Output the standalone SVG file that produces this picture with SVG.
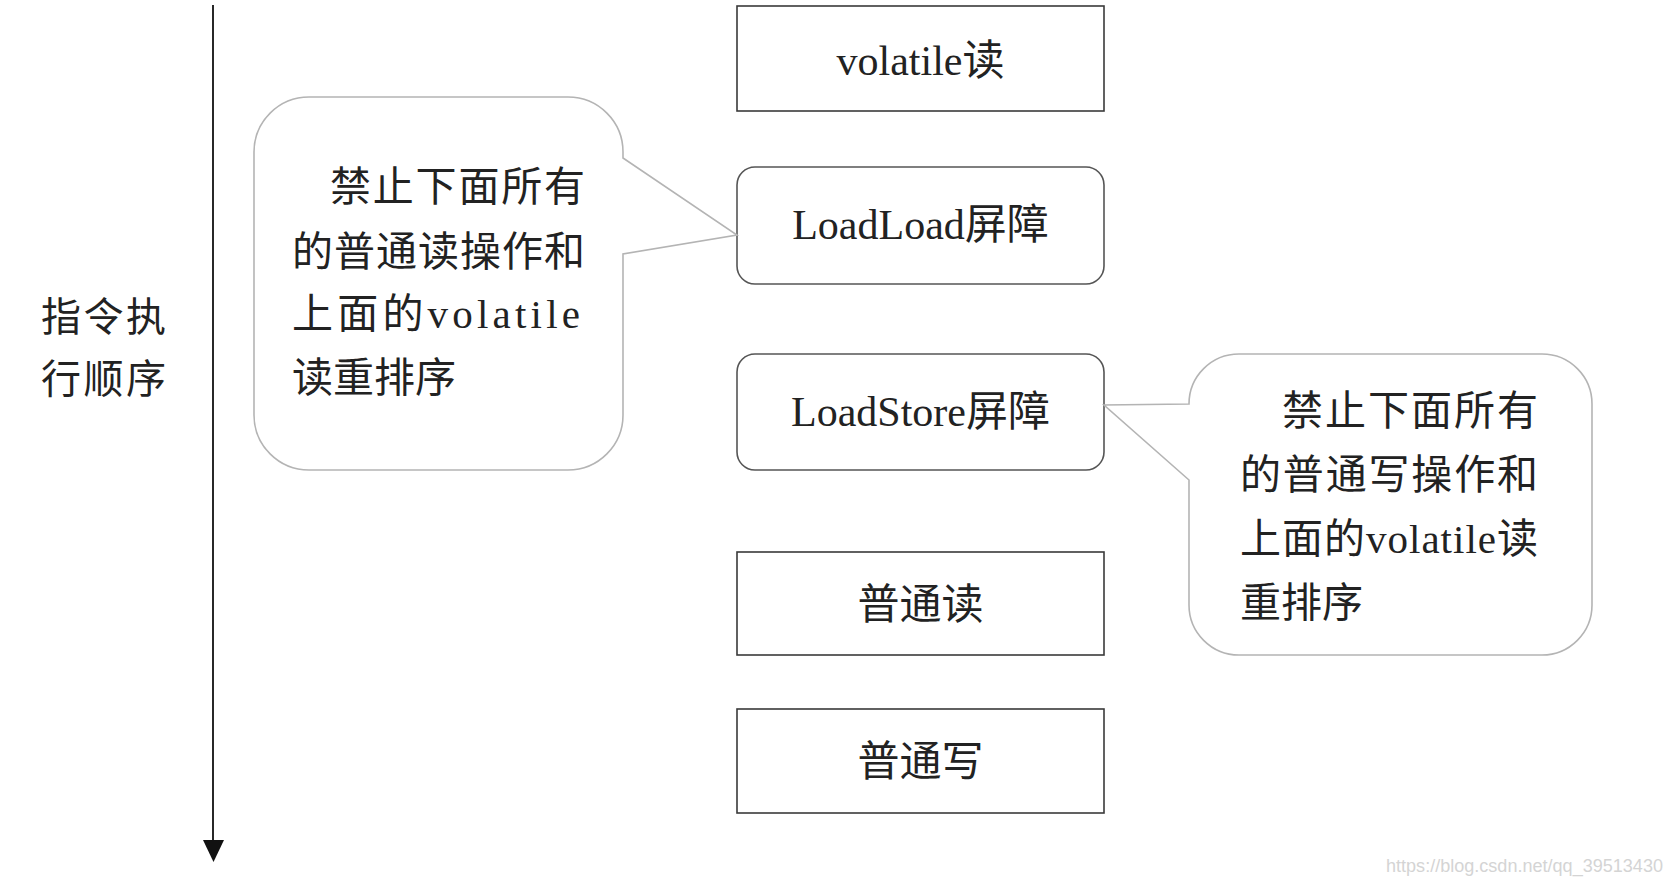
<svg xmlns="http://www.w3.org/2000/svg" width="1672" height="884" viewBox="0 0 1672 884">
<style>
.t{font-family:"Liberation Serif","Noto Sans CJK SC",serif;fill:#222}
.box{fill:#fff;stroke:#3a3a3a;stroke-width:1.6}
.rbox{fill:#fff;stroke:#555;stroke-width:1.6}
.bub{fill:#fff;stroke:#b4b4b4;stroke-width:1.6;stroke-linejoin:miter}
.wm{font-family:"Liberation Sans Narrow","Liberation Sans",sans-serif;fill:#d4d4d4}
</style>
<rect width="1672" height="884" fill="#fff"/>
<g id="connectors">
<line x1="213" y1="5" x2="213" y2="845" stroke="#111" stroke-width="1.8"/>
<polygon points="203,840 224,840 213.5,862" fill="#111"/>
</g>
<g id="order-label">
<text class="t" x="41" y="331" font-size="40" textLength="125" lengthAdjust="spacing">指令执</text>
<text class="t" x="41" y="393" font-size="40" textLength="125" lengthAdjust="spacing">行顺序</text>
</g>
<g id="volatile-read">
<rect class="box" x="737" y="6" width="367" height="105"/>
<text class="t" x="920.5" y="75" font-size="42" text-anchor="middle">volatile读</text>
</g>
<g id="loadload">
<rect class="rbox" x="737" y="167" width="367" height="117" rx="18"/>
<text class="t" x="920.5" y="239" font-size="42" text-anchor="middle">LoadLoad屏障</text>
</g>
<g id="loadstore">
<rect class="rbox" x="737" y="354" width="367" height="116" rx="18"/>
<text class="t" x="920.5" y="426" font-size="42" text-anchor="middle">LoadStore屏障</text>
</g>
<g id="normal-read">
<rect class="box" x="737" y="552" width="367" height="103"/>
<text class="t" x="920.5" y="619" font-size="42" text-anchor="middle">普通读</text>
</g>
<g id="normal-write">
<rect class="box" x="737" y="709" width="367" height="104"/>
<text class="t" x="920.5" y="776" font-size="42" text-anchor="middle">普通写</text>
</g>
<g id="bubble-left">
<path class="bub" d="M309,97 H568 A55,55 0 0 1 623,152 V158 L737,235 L623,254 V415 A55,55 0 0 1 568,470 H309 A55,55 0 0 1 254,415 V152 A55,55 0 0 1 309,97 Z"/>
<text class="t" x="330" y="201" font-size="41" textLength="255" lengthAdjust="spacing">禁止下面所有</text>
<text class="t" x="292" y="266" font-size="41" textLength="293" lengthAdjust="spacing">的普通读操作和</text>
<text class="t" x="292" y="328" font-size="41" textLength="288" lengthAdjust="spacing">上面的volatile</text>
<text class="t" x="292" y="392" font-size="41">读重排序</text>
</g>
<g id="bubble-right">
<path class="bub" d="M1239,354 H1542 A50,50 0 0 1 1592,404 V605 A50,50 0 0 1 1542,655 H1239 A50,50 0 0 1 1189,605 V480 L1104,405 L1189,404 A50,50 0 0 1 1239,354 Z"/>
<text class="t" x="1282" y="425" font-size="41" textLength="256" lengthAdjust="spacing">禁止下面所有</text>
<text class="t" x="1240" y="489" font-size="41" textLength="298" lengthAdjust="spacing">的普通写操作和</text>
<text class="t" x="1240" y="553" font-size="41" textLength="298" lengthAdjust="spacing">上面的volatile读</text>
<text class="t" x="1240" y="617" font-size="41">重排序</text>
</g>
<g id="watermark">
<text class="wm" x="1386" y="872" font-size="18" textLength="277" lengthAdjust="spacingAndGlyphs">https://blog.csdn.net/qq_39513430</text>
</g>
</svg>
